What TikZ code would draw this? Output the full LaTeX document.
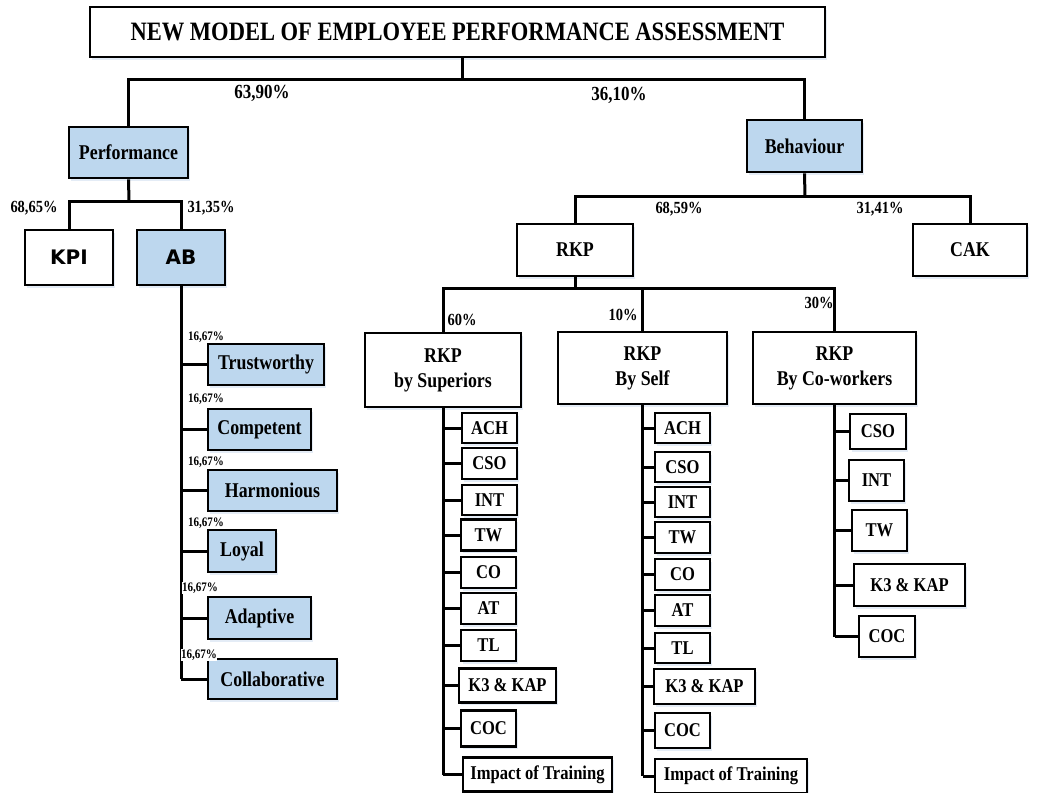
\documentclass[tikz,border=0pt]{standalone}
\usepackage{fontspec}
\usetikzlibrary{shadows}
\newfontfamily\tnr{Liberation Serif}[FakeStretch=0.85]
\newfontfamily\dvs{DejaVu Sans}
\definecolor{lblue}{HTML}{BDD7EE}
\definecolor{shd}{HTML}{E4ECF6}
\tikzset{
  conn/.style={line width=3pt},
  box/.style={draw, line width=2.7pt, fill=white, inner sep=0pt, align=center,
    font=\tnr\bfseries\fontsize{21}{25}\selectfont,
    drop shadow={shadow xshift=2pt, shadow yshift=-2.5pt, fill=shd, opacity=1}},
  bluebox/.style={box, fill=lblue},
  small/.style={box, font=\tnr\bfseries\fontsize{19.5}{22}\selectfont},
  sansbox/.style={font=\dvs\bfseries\fontsize{20}{24}\selectfont},
  pct/.style={font=\tnr\bfseries\fontsize{17}{19}\selectfont, inner sep=1pt},
  bigpct/.style={font=\tnr\bfseries\fontsize{20}{22}\selectfont, inner sep=1pt},
  tiny/.style={font=\tnr\bfseries\fontsize{13}{14}\selectfont, inner sep=0.5pt, fill=white},
}
\begin{document}
\begin{tikzpicture}[x=1pt,y=-1pt]
\fill[white] (0,0) rectangle (1037,793);
\useasboundingbox (0,0) rectangle (1037,793);

% main nodes
\node[box, minimum width=735, minimum height=50, font=\tnr\bfseries\fontsize{26.5}{30}\selectfont] (title) at (457.5,32) {NEW MODEL OF EMPLOYEE PERFORMANCE ASSESSMENT};
\node[bluebox, minimum width=119, minimum height=51] (perf) at (128.5,152.5) {Performance};
\node[box, sansbox, minimum width=88, minimum height=55] (kpi) at (69,257.5) {KPI};
\node[bluebox, sansbox, minimum width=88, minimum height=55] (ab) at (181,257.5) {AB};
\node[bluebox, minimum width=115, minimum height=52] (beh) at (804.5,146) {Behaviour};
\node[box, minimum width=116, minimum height=52] (rkp) at (575,250) {RKP};
\node[box, minimum width=114, minimum height=52] (cak) at (970,250) {CAK};
\node[box, minimum width=156, minimum height=74] (sup) at (443,370) {RKP\\by Superiors};
\node[box, minimum width=169, minimum height=72] (self) at (642.5,368) {RKP\\By Self};
\node[box, minimum width=163, minimum height=72] (cow) at (834.5,368) {RKP\\By Co-workers};

% AB children
\node[bluebox, minimum width=116, minimum height=41] (a1) at (266,364.5) {Trustworthy};
\node[bluebox, minimum width=103, minimum height=41] (a2) at (259.5,429.5) {Competent};
\node[bluebox, minimum width=129, minimum height=41] (a3) at (272.5,490.5) {Harmonious};
\node[bluebox, minimum width=68, minimum height=42] (a4) at (242,551) {Loyal};
\node[bluebox, minimum width=103, minimum height=42] (a5) at (259.5,618) {Adaptive};
\node[bluebox, minimum width=129, minimum height=40] (a6) at (272.5,679) {Collaborative};

% Superiors children
\node[small, minimum width=55, minimum height=30] (s1) at (489.5,428) {ACH};
\node[small, minimum width=55, minimum height=31] (s2) at (489.5,463.5) {CSO};
\node[small, minimum width=55, minimum height=30] (s3) at (489.5,500) {INT};
\node[small, minimum width=55, minimum height=31] (s4) at (488.5,535) {TW};
\node[small, minimum width=55, minimum height=31] (s5) at (488.5,572.5) {CO};
\node[small, minimum width=55, minimum height=31] (s6) at (488.5,608.5) {AT};
\node[small, minimum width=55, minimum height=31] (s7) at (488.5,645.5) {TL};
\node[small, minimum width=97, minimum height=34] (s8) at (507.5,685.5) {K3 \& KAP};
\node[small, minimum width=55, minimum height=36] (s9) at (488.5,728.5) {COC};
\node[small, minimum width=149, minimum height=34] (s10) at (537.5,774.5) {Impact of Training};

% Self children
\node[small, minimum width=55, minimum height=30] (f1) at (682.5,428) {ACH};
\node[small, minimum width=55, minimum height=30] (f2) at (682.5,467) {CSO};
\node[small, minimum width=55, minimum height=30] (f3) at (682.5,502) {INT};
\node[small, minimum width=55, minimum height=31] (f4) at (682.5,537.5) {TW};
\node[small, minimum width=55, minimum height=31] (f5) at (682.5,574.5) {CO};
\node[small, minimum width=55, minimum height=31] (f6) at (682.5,610.5) {AT};
\node[small, minimum width=55, minimum height=30] (f7) at (682.5,648) {TL};
\node[small, minimum width=101, minimum height=35] (f8) at (704.5,686.5) {K3 \& KAP};
\node[small, minimum width=55, minimum height=35] (f9) at (682.5,730.5) {COC};
\node[small, minimum width=152, minimum height=34] (f10) at (731,776) {Impact of Training};

% Co-workers children
\node[small, minimum width=56, minimum height=35] (c1) at (878,431.5) {CSO};
\node[small, minimum width=55, minimum height=41] (c2) at (876.5,480.5) {INT};
\node[small, minimum width=55, minimum height=41] (c3) at (879.5,530.5) {TW};
\node[small, minimum width=111, minimum height=42] (c4) at (909.5,585) {K3 \& KAP};
\node[small, minimum width=56, minimum height=41] (c5) at (887,636.5) {COC};

% junctions
\coordinate (tj) at (462,79);
\coordinate (pj) at (129,201);
\coordinate (bj) at (805,196);
\coordinate (rj) at (575,288);

% connectors
\draw[conn] (title.south -| tj) -- (tj);
\draw[conn] (perf.north) |- (tj) -| (beh.north);
\draw[conn] (perf.south) -- (pj);
\draw[conn] (kpi.north) |- (pj) -| (ab.north);
\draw[conn] (beh.south) -- (bj);
\draw[conn] (rkp.north) |- (bj) -| (cak.north);
\draw[conn] (rkp.south) -- (rj);
\draw[conn] (sup.north) |- (rj) -| (cow.north);
\draw[conn] (self.north) -- (self.north |- rj);

\draw[conn] (ab.south) -- (ab.south |- a6.west);
\foreach \n in {a1,a2,a3,a4,a5,a6} \draw[conn] (ab.south |- \n.west) -- (\n.west);
\draw[conn] (sup.south) -- (sup.south |- s10.west);
\foreach \n in {s1,s2,s3,s4,s5,s6,s7,s8,s9,s10} \draw[conn] (sup.south |- \n.west) -- (\n.west);
\draw[conn] (self.south) -- (self.south |- f10.west);
\foreach \n in {f1,f2,f3,f4,f5,f6,f7,f8,f9,f10} \draw[conn] (self.south |- \n.west) -- (\n.west);
\draw[conn] (cow.south) -- (cow.south |- c5.west);
\foreach \n in {c1,c2,c3,c4,c5} \draw[conn] (cow.south |- \n.west) -- (\n.west);

% percentages
\node[bigpct] (p1) at (262,93) {63,90\%};
\node[bigpct] (p2) at (619,95) {36,10\%};
\node[pct] (p3) at (34,208) {68,65\%};
\node[pct] (p4) at (211,208) {31,35\%};
\node[pct] (p5) at (679,209) {68,59\%};
\node[pct] (p6) at (880,209) {31,41\%};
\node[pct] (p7) at (462,320) {60\%};
\node[pct] (p8) at (623,315) {10\%};
\node[pct] (p9) at (819,303) {30\%};
\node[tiny] (q1) at (206,337) {16,67\%};
\node[tiny] (q2) at (206,399) {16,67\%};
\node[tiny] (q3) at (206,462) {16,67\%};
\node[tiny] (q4) at (206,523) {16,67\%};
\node[tiny] (q5) at (200,588) {16,67\%};
\node[tiny] (q6) at (199,655) {16,67\%};
\end{tikzpicture}
\end{document}
